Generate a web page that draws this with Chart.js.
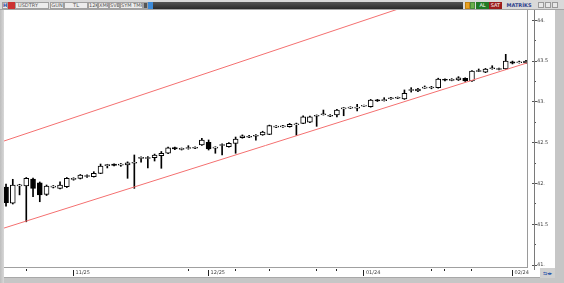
<!DOCTYPE html>
<html>
<head>
<meta charset="utf-8">
<script src="https://cdn.jsdelivr.net/npm/chart.js@4.4.1/dist/chart.umd.min.js"></script>
<style>
  html, body { margin: 0; padding: 0; }
  body { width: 564px; height: 283px; overflow: hidden; position: relative; background: #c6c6c6; font-family: "DejaVu Sans", sans-serif; }
  #toolbar { position: absolute; left: 0; top: 0; width: 564px; height: 10px; background: #d9d9d9; border-bottom: 1px solid #a5a5a5; box-sizing: border-box; }
  .btn { position: absolute; top: 2px; height: 7px; background: #ececec; border: 1px solid #a0a0a0; box-sizing: border-box; font-size: 5px; line-height: 5px; color: #555; text-align: center; white-space: nowrap; overflow: hidden; }
  #darkbar { position: absolute; left: 153px; top: 2px; width: 310px; height: 7px; background: linear-gradient(#555, #2a2a2a); }
  #al { position: absolute; left: 476px; top: 2px; width: 13px; height: 7px; background: #1f7a26; color: #fff; font-size: 5px; line-height: 7px; text-align: center; }
  #sat { position: absolute; left: 489px; top: 2px; width: 13px; height: 7px; background: #9c1c1c; color: #fff; font-size: 5px; line-height: 7px; text-align: center; }
  #brand { position: absolute; left: 506px; top: 2px; width: 26px; height: 7px; color: #2c3e8c; font-size: 5px; line-height: 7px; font-weight: bold; text-align: center; }
  .win { position: absolute; top: 2px; width: 6px; height: 6px; background: #e8e8e8; border: 1px solid #9a9a9a; box-sizing: border-box; }
  #wrap { position: absolute; left: 4px; top: 10px; width: 551px; height: 268px; background: #fff; }
  #nav { position: absolute; left: 540px; top: 268px; width: 15px; height: 10px; background: #d0d0d0; font-size: 5px; line-height: 10px; color: #1d4fa8; text-align: center; }
  #leftedge { position: absolute; left: 0; top: 10px; width: 4px; height: 273px; background: linear-gradient(90deg, #bdbdbd, #d8d8d8); }
</style>
</head>
<body>
<div id="toolbar">
  <div class="btn" style="left:2px;width:6px;color:#1d3f9a;font-weight:bold">H</div>
  <div class="btn" style="left:8px;width:7px;background:#c33;border-color:#c33"></div>
  <div class="btn" style="left:15px;width:34px;text-align:left;padding-left:2px">USDTRY</div>
  <div class="btn" style="left:50px;width:14px">GÜN</div>
  <div class="btn" style="left:64px;width:24px">TL</div>
  <div class="btn" style="left:88px;width:10px">12K</div>
  <div class="btn" style="left:98px;width:11px">XMR</div>
  <div class="btn" style="left:109px;width:11px">SVB</div>
  <div class="btn" style="left:120px;width:23px">SYM TMP</div>
  <div class="btn" style="left:143px;width:5px;background:#555"></div>
  <div class="btn" style="left:148px;width:5px;background:#3c8ad8;border-color:#3c8ad8"></div>
  <div id="darkbar"></div>
  <div class="btn" style="left:465px;width:5px;background:#e8a020;border-color:#c08010"></div>
  <div class="btn" style="left:470px;width:5px;background:#6ab04c;border-color:#4a8a3c"></div>
  <div id="al">AL</div>
  <div id="sat">SAT</div>
  <div id="brand">MATRİKS</div>
  <div class="win" style="left:538px"></div>
  <div class="win" style="left:545px"></div>
  <div class="win" style="left:552px"></div>
</div>
<div id="leftedge"></div>
<div id="wrap"><canvas id="chart" width="551" height="268"></canvas></div>
<div id="nav">⇆◂▸</div>
<script>
// daily USDTRY candles
const opens = [
  41.957, 41.757, 41.970, 41.969, 42.054, 42.009, 41.867, 41.955, 41.940, 41.960,
  42.050, 42.063, 42.085, 42.083, 42.124, 42.218, 42.236, 42.224, 42.226, 42.248,
  42.308, 42.306, 42.316, 42.340, 42.370, 42.440, 42.418, 42.428, 42.432, 42.471,
  42.504, 42.433, 42.465, 42.450, 42.492, 42.561, 42.567, 42.579, 42.594, 42.602,
  42.690, 42.693, 42.696, 42.719, 42.737, 42.750, 42.824, 42.842, 42.824, 42.839,
  42.915, 42.923, 42.924, 42.947, 42.941, 43.025, 43.015, 43.038, 43.045, 43.035,
  43.140, 43.133, 43.168, 43.170, 43.174, 43.277, 43.264, 43.268, 43.289, 43.256,
  43.372, 43.363, 43.406, 43.397, 43.403, 43.492, 43.479, 43.477
];
const highs = [
  41.993, 42.051, 41.990, 42.073, 42.067, 42.018, 41.981, 41.975, 42.021, 42.073,
  42.070, 42.110, 42.105, 42.144, 42.238, 42.235, 42.242, 42.245, 42.265, 42.349,
  42.325, 42.330, 42.360, 42.392, 42.445, 42.447, 42.435, 42.463, 42.450, 42.553,
  42.533, 42.450, 42.485, 42.500, 42.569, 42.595, 42.590, 42.600, 42.640, 42.715,
  42.710, 42.712, 42.735, 42.740, 42.830, 42.825, 42.840, 42.900, 42.845, 42.910,
  42.930, 42.940, 42.970, 42.960, 43.030, 43.030, 43.051, 43.055, 43.060, 43.146,
  43.174, 43.165, 43.195, 43.190, 43.290, 43.282, 43.285, 43.309, 43.295, 43.385,
  43.403, 43.410, 43.443, 43.415, 43.583, 43.500, 43.500, 43.510
];
const lows = [
  41.723, 41.748, 41.860, 41.530, 41.837, 41.776, 41.852, 41.945, 41.932, 41.950,
  42.040, 42.055, 42.075, 42.078, 42.120, 42.190, 42.215, 42.210, 42.063, 41.940,
  42.262, 42.190, 42.275, 42.186, 42.365, 42.415, 42.410, 42.420, 42.425, 42.465,
  42.410, 42.370, 42.350, 42.445, 42.370, 42.555, 42.560, 42.530, 42.590, 42.598,
  42.685, 42.688, 42.690, 42.590, 42.733, 42.745, 42.700, 42.838, 42.818, 42.815,
  42.830, 42.918, 42.888, 42.943, 42.935, 43.005, 43.010, 43.030, 43.040, 43.030,
  43.120, 43.125, 43.165, 43.160, 43.168, 43.258, 43.258, 43.262, 43.250, 43.250,
  43.370, 43.358, 43.400, 43.392, 43.398, 43.465, 43.475, 43.470
];
const closes = [
  41.764, 41.981, 41.982, 42.063, 41.940, 41.858, 41.969, 41.967, 41.981, 42.063,
  42.062, 42.104, 42.097, 42.124, 42.214, 42.230, 42.222, 42.236, 42.254, 42.260,
  42.320, 42.318, 42.349, 42.370, 42.438, 42.424, 42.430, 42.440, 42.444, 42.533,
  42.422, 42.445, 42.477, 42.492, 42.545, 42.585, 42.579, 42.591, 42.630, 42.708,
  42.702, 42.705, 42.725, 42.731, 42.818, 42.818, 42.836, 42.854, 42.836, 42.900,
  42.927, 42.935, 42.936, 42.959, 43.023, 43.012, 43.027, 43.050, 43.057, 43.105,
  43.152, 43.158, 43.180, 43.182, 43.280, 43.265, 43.276, 43.296, 43.256, 43.378,
  43.384, 43.403, 43.418, 43.409, 43.501, 43.473, 43.491, 43.501
];

// x axis: candle index of the date labels and of the small week marks
const dateTickIdx = [10, 30, 53, 75];
const dateLabels = ['11/25', '12/25', '01/24', '02/24'];
const weekTickIdx = [3, 27, 34, 39, 46, 49, 63, 65, 69];

// y axis
const priceTicks = [41, 41.5, 42, 42.5, 43, 43.5, 44];
const priceLabels = ['41.', '41.5', '42.', '42.5', '43.', '43.5', '44.'];
const priceMinorTicks = [41.25, 41.75, 42.25, 42.75, 43.25, 43.75];

// trend channel, [candle index, price] at both ends
const lowerChannel = [[-0.3, 41.453], [77.15, 43.477]];
const upperChannel = [[-0.3, 42.520], [77.15, 44.667]];

const idx = opens.map((o, i) => i);
const tickFont = { family: "DejaVu Sans", size: 5 };
const channelColor = 'rgb(244, 112, 112)';

const tickVal = c => (c.tick ? c.tick.value : null);

const axisLine = {
  id: 'axisLine',
  afterDraw(chart) {
    const c = chart.ctx, a = chart.chartArea;
    c.save();
    c.strokeStyle = '#7a7a7a';
    c.lineWidth = 1;
    c.beginPath();
    c.moveTo(a.right + 7.5, a.top);
    c.lineTo(a.right + 7.5, a.bottom + 3);
    c.stroke();
    c.strokeStyle = '#a8a8a8';
    c.beginPath();
    c.moveTo(0, chart.height - 0.5);
    c.lineTo(536, chart.height - 0.5);
    c.stroke();
    c.restore();
  }
};

new Chart(document.getElementById('chart'), {
  type: 'bar',
  data: {
    datasets: [
      {
        type: 'line',
        data: lowerChannel.map(p => ({ x: p[0], y: p[1] })),
        borderColor: channelColor,
        borderWidth: 1,
        pointRadius: 0,
        order: 0
      },
      {
        type: 'line',
        data: upperChannel.map(p => ({ x: p[0], y: p[1] })),
        borderColor: channelColor,
        borderWidth: 1,
        pointRadius: 0,
        order: 0
      },
      {
        data: idx.map(i => ({ x: i, y: [Math.min(opens[i], closes[i]), Math.max(opens[i], closes[i])] })),
        backgroundColor: idx.map(i => closes[i] < opens[i] ? '#000' : '#fff'),
        borderColor: '#000',
        borderWidth: 1,
        borderSkipped: false,
        barThickness: 5,
        grouped: false,
        order: 1
      },
      {
        data: idx.map(i => ({ x: i, y: [lows[i], highs[i]] })),
        backgroundColor: '#000',
        borderWidth: 0,
        barThickness: 1,
        grouped: false,
        order: 2
      }
    ]
  },
  options: {
    responsive: false,
    animation: false,
    devicePixelRatio: 1,
    layout: { padding: 0 },
    plugins: { legend: { display: false }, tooltip: { enabled: false } },
    scales: {
      x: {
        type: 'linear',
        position: 'bottom',
        offset: false,
        min: -0.3,
        max: 77.15,
        afterBuildTicks: s => {
          s.ticks = weekTickIdx.concat(dateTickIdx).sort((a, b) => a - b).map(v => ({ value: v }));
        },
        afterFit: s => {
          s.height = 11;
          s.paddingLeft = 0;
          s.paddingRight = 0;
        },
        grid: {
          offset: false,
          drawOnChartArea: false,
          tickLength: 9,
          tickColor: '#222',
          tickWidth: 1,
          tickBorderDash: c => dateTickIdx.includes(tickVal(c)) ? [0, 2, 7, 0] : [0, 1, 2, 20]
        },
        border: { display: true, color: '#a0a0a0' },
        ticks: {
          autoSkip: false,
          maxRotation: 0,
          align: 'start',
          padding: -6,
          labelOffset: 2,
          font: tickFont,
          color: '#444',
          callback: v => {
            const k = dateTickIdx.indexOf(v);
            return k >= 0 ? dateLabels[k] : '';
          }
        }
      },
      y: {
        type: 'linear',
        position: 'right',
        min: 40.976,
        max: 44.126,
        afterBuildTicks: s => {
          s.ticks = priceTicks.concat(priceMinorTicks).sort((a, b) => a - b).map(v => ({ value: v }));
        },
        afterFit: s => {
          s.width = 28;
          s.paddingTop = 0;
          s.paddingBottom = 0;
        },
        grid: {
          drawOnChartArea: false,
          tickLength: 10,
          tickColor: '#555',
          tickWidth: 1,
          tickBorderDash: c => priceTicks.includes(tickVal(c)) ? [0, 4, 6, 0] : [0, 6, 2, 0]
        },
        border: { display: true, color: '#9a9a9a' },
        ticks: {
          autoSkip: false,
          padding: 0,
          font: tickFont,
          color: '#444',
          callback: v => {
            const k = priceTicks.indexOf(v);
            return k >= 0 ? priceLabels[k] : '';
          }
        }
      }
    }
  },
  plugins: [axisLine]
});
</script>
</body>
</html>
